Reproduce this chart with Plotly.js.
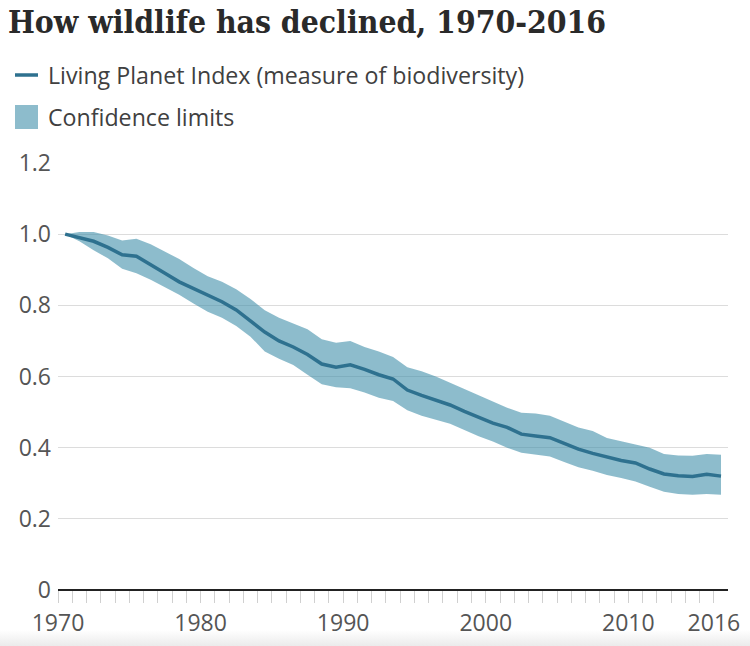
<!DOCTYPE html>
<html>
<head>
<meta charset="utf-8">
<script src="https://cdn.plot.ly/plotly-3.0.1.min.js"></script>
<style>
  html, body { margin: 0; padding: 0; }
  body { width: 750px; height: 646px; background: linear-gradient(to bottom, #ffffff 0px, #ffffff 630px, #ebebeb 646px); }
  #chart { width: 750px; height: 646px; }
</style>
</head>
<body>
<div id="chart"></div>
<script>
const years = [1970,1971,1972,1973,1974,1975,1976,1977,1978,1979,
  1980,1981,1982,1983,1984,1985,1986,1987,1988,1989,
  1990,1991,1992,1993,1994,1995,1996,1997,1998,1999,
  2000,2001,2002,2003,2004,2005,2006,2007,2008,2009,
  2010,2011,2012,2013,2014,2015,2016];

const lpi = [1.0,0.99,0.98,0.963,0.942,0.938,0.915,0.89,0.866,0.848,
  0.83,0.81,0.787,0.757,0.725,0.70,0.683,0.662,0.635,0.626,
  0.633,0.62,0.605,0.593,0.562,0.547,0.533,0.52,0.502,0.485,
  0.469,0.457,0.438,0.433,0.428,0.412,0.396,0.384,0.373,0.364,
  0.357,0.34,0.326,0.321,0.319,0.325,0.32];

const upper = [1.0,1.006,1.006,0.996,0.982,0.987,0.972,0.95,0.93,0.905,
  0.882,0.866,0.845,0.818,0.786,0.765,0.75,0.733,0.705,0.695,
  0.70,0.683,0.67,0.655,0.626,0.615,0.60,0.582,0.565,0.548,
  0.53,0.512,0.498,0.496,0.49,0.473,0.457,0.447,0.427,0.418,
  0.41,0.40,0.382,0.378,0.377,0.382,0.38];

const lower = [1.0,0.98,0.955,0.932,0.903,0.89,0.872,0.85,0.83,0.805,
  0.782,0.765,0.742,0.712,0.67,0.65,0.632,0.605,0.578,0.57,
  0.567,0.555,0.54,0.531,0.505,0.49,0.478,0.467,0.45,0.432,
  0.417,0.40,0.386,0.38,0.375,0.36,0.345,0.335,0.323,0.315,
  0.305,0.29,0.276,0.27,0.268,0.27,0.268];

const xTickVals = [1970,1980,1990,2000,2010,2016];
const xTickText = ['1970','1980','1990','2000','2010','2016'];
const yTickVals = [0,0.2,0.4,0.6,0.8,1.0,1.2];
const yTickText = ['0','0.2','0.4','0.6','0.8','1.0','1.2'];

const titleText = 'How wildlife has declined, 1970-2016';
const legendLine = 'Living Planet Index (measure of biodiversity)';
const legendBand = 'Confidence limits';

// values are annual, plotted at the middle of each year
const xMid = years.map(y => y + 0.5);

const LINE = 'rgb(46,113,143)';
const BAND = 'rgba(65,143,170,0.6)';

const W = 750, H = 646;
const M = {l: 58, r: 22, t: 163, b: 56};
const PW = W - M.l - M.r, PH = H - M.t - M.b;
const px = v => (v - M.l) / PW;          // pixel x -> paper x
const py = v => (H - M.b - v) / PH;      // pixel y -> paper y

const traces = [
  {x: xMid, y: lower, type: 'scatter', mode: 'lines', line: {width: 0, color: BAND},
   hoverinfo: 'skip', showlegend: false},
  {x: xMid, y: upper, type: 'scatter', mode: 'lines', line: {width: 0, color: BAND},
   fill: 'tonexty', fillcolor: BAND, hoverinfo: 'skip', showlegend: false},
  {x: xMid, y: lpi, type: 'scatter', mode: 'lines', line: {width: 3.5, color: LINE},
   showlegend: false}
];

const sans = 'Open Sans, Noto Sans, sans-serif';

const layout = {
  width: W, height: H,
  margin: M,
  paper_bgcolor: 'rgba(0,0,0,0)',
  plot_bgcolor: 'rgba(0,0,0,0)',
  showlegend: false,
  title: {
    text: titleText,
    font: {family: 'DejaVu Serif Condensed, DejaVu Serif, serif', size: 31.6, color: '#2a2a2a', weight: 'bold'},
    x: 8 / W, xanchor: 'left', xref: 'container',
    y: 1 - 22 / H, yanchor: 'middle', yref: 'container'
  },
  xaxis: {
    range: [1970, 2016.99],
    tickvals: xTickVals, ticktext: xTickText,
    ticks: 'outside', ticklen: 12, tickcolor: '#d0d0d0', tickwidth: 1,
    minor: {dtick: 1, tick0: 1970, ticks: 'outside', ticklen: 12, tickcolor: '#d0d0d0', tickwidth: 1, showgrid: false},
    showgrid: false, zeroline: false, showline: false,
    tickfont: {family: sans, size: 23, color: '#555'},
    fixedrange: true
  },
  yaxis: {
    range: [0, 1.2],
    tickvals: yTickVals, ticktext: yTickText,
    ticks: '', showgrid: true, gridcolor: '#dcdcdc', gridwidth: 1,
    zeroline: true, zerolinecolor: '#222', zerolinewidth: 2,
    showline: false,
    tickfont: {family: sans, size: 23, color: '#555'},
    ticklabelstandoff: 6,
    fixedrange: true
  },
  shapes: [
    {type: 'line', xref: 'paper', yref: 'paper', x0: px(15), x1: px(38), y0: py(75), y1: py(75),
     line: {color: LINE, width: 3.5}},
    {type: 'rect', xref: 'paper', yref: 'paper', x0: px(15), x1: px(38), y0: py(105), y1: py(129),
     fillcolor: BAND, line: {width: 0}}
  ],
  annotations: [
    {text: legendLine, xref: 'paper', yref: 'paper', x: px(46), y: py(75), xanchor: 'left', yanchor: 'middle',
     showarrow: false, font: {family: sans, size: 23.2, color: '#404040'}},
    {text: legendBand, xref: 'paper', yref: 'paper', x: px(46), y: py(117), xanchor: 'left', yanchor: 'middle',
     showarrow: false, font: {family: sans, size: 23.2, color: '#404040'}}
  ]
};

Plotly.newPlot('chart', traces, layout, {displayModeBar: false, staticPlot: true});
</script>
</body>
</html>
